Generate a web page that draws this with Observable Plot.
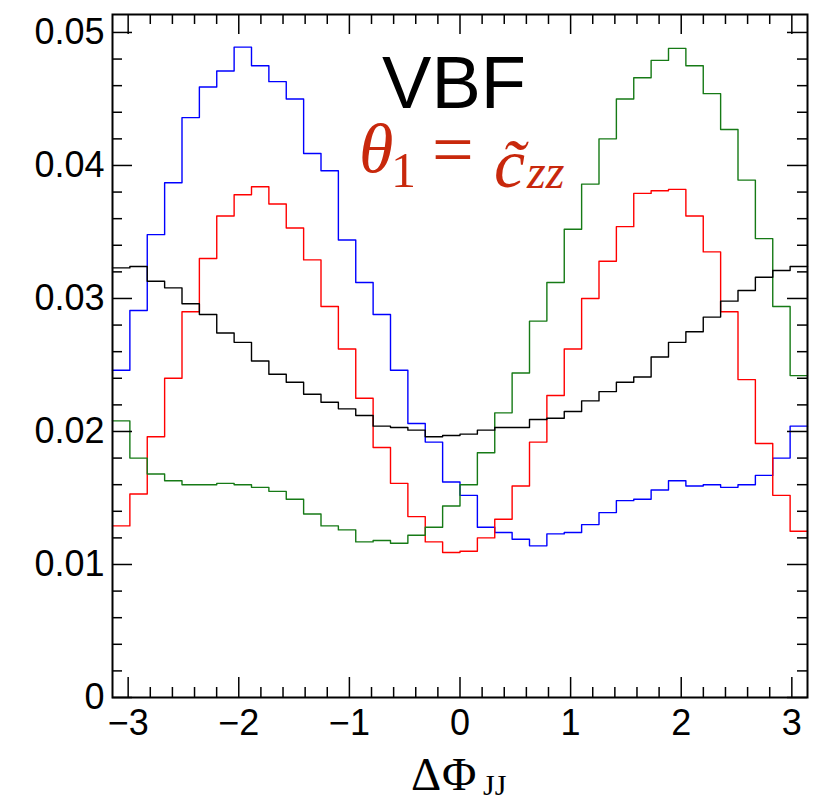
<!DOCTYPE html>
<html>
<head>
<meta charset="utf-8">
<script src="https://cdn.jsdelivr.net/npm/d3@7"></script>
<script src="https://cdn.jsdelivr.net/npm/@observablehq/plot@0.6"></script>
<style>
  html, body { margin: 0; padding: 0; background: #fff; }
  #chart svg { display: block; }
</style>
</head>
<body>
<div id="chart"></div>
<script>
// ---- data ----
const nBins = 40;
const xMin = -Math.PI, xMax = Math.PI;
const edges = d3.range(nBins + 1).map(k => xMin + k * (xMax - xMin) / nBins);

const blue = [0.0246, 0.0291, 0.0348, 0.0387, 0.0436, 0.0459, 0.0471, 0.0489, 0.0475, 0.0463,
              0.0450, 0.0409, 0.0396, 0.0344, 0.0312, 0.0288, 0.0246, 0.0206, 0.0192, 0.0162,
              0.0152, 0.0128, 0.0124, 0.0119, 0.0114, 0.0123, 0.0124, 0.0130, 0.0139, 0.0148,
              0.0149, 0.0156, 0.0163, 0.0159, 0.0160, 0.0158, 0.0160, 0.0167, 0.0180, 0.0204];
const red = [0.0129, 0.0153, 0.0196, 0.0240, 0.0290, 0.0330, 0.0362, 0.0378, 0.0384, 0.0371,
             0.0353, 0.0329, 0.0294, 0.0262, 0.0225, 0.0188, 0.0161, 0.0136, 0.0117, 0.0109,
             0.0110, 0.0120, 0.0134, 0.0159, 0.0192, 0.0227, 0.0262, 0.0300, 0.0328, 0.0354,
             0.0379, 0.0381, 0.0382, 0.0362, 0.0335, 0.0290, 0.0239, 0.0191, 0.0152, 0.0125];
const green = [0.0208, 0.0180, 0.0168, 0.0163, 0.0160, 0.0160, 0.0161, 0.0160, 0.0158, 0.0155,
               0.0149, 0.0138, 0.0129, 0.0126, 0.0117, 0.0118, 0.0116, 0.0122, 0.0128, 0.0144,
               0.0160, 0.0184, 0.0214, 0.0244, 0.0283, 0.0312, 0.0352, 0.0386, 0.0420, 0.0450,
               0.0466, 0.0479, 0.0488, 0.0475, 0.0454, 0.0427, 0.0389, 0.0345, 0.0294, 0.0242];
const black = [0.0323, 0.0324, 0.0313, 0.0308, 0.0296, 0.0288, 0.0274, 0.0267, 0.0253, 0.0243,
               0.0237, 0.0228, 0.0222, 0.0217, 0.0212, 0.0204, 0.0203, 0.0201, 0.0196, 0.0197,
               0.0198, 0.0201, 0.0203, 0.0203, 0.0209, 0.0210, 0.0215, 0.0223, 0.0230, 0.0237,
               0.0241, 0.0256, 0.0267, 0.0275, 0.0286, 0.0298, 0.0306, 0.0316, 0.0321, 0.0324];

const seriesNames = ["blue", "red", "green", "black"];
const seriesValues = [blue, red, green, black];
const seriesColors = ["#0000ff", "#ff0000", "#167a16", "#000000"];

const xMajorTicks = [-3, -2, -1, 0, 1, 2, 3];
const xMinorTicks = [-3.0, -2.8, -2.6, -2.4, -2.2, -1.8, -1.6, -1.4, -1.2, -0.8, -0.6, -0.4, -0.2,
                     0.2, 0.4, 0.6, 0.8, 1.2, 1.4, 1.6, 1.8, 2.2, 2.4, 2.6, 2.8, 3.0].filter(v => !xMajorTicks.includes(v));
const yMajorTicks = [0, 0.01, 0.02, 0.03, 0.04, 0.05];
const yMinorTicks = d3.range(1, 26).map(i => i * 0.002).filter(v => Math.abs(v * 100 - Math.round(v * 100)) > 1e-6);
const yMax = 0.05135;

// build step-line table
const table = [];
seriesNames.forEach((name, si) => {
  const vals = seriesValues[si];
  edges.forEach((e, k) => table.push({series: name, x: e, y: vals[Math.min(k, nBins - 1)]}));
});

const W = 821, H = 803;
const mL = 112, mR = 14, mT = 14, mB = 106;
const fw = W - mL - mR, fh = H - mT - mB;
const majorLen = 20, minorLen = 10;

const lineMarks = seriesNames.map((name, si) =>
  Plot.line(table.filter(d => d.series === name), {
    x: "x", y: "y", curve: "step-after", stroke: seriesColors[si], strokeWidth: 1.4
  })
);

const fmtX = d => (d < 0 ? "\u2212" + (-d) : String(d));
const fmtY = d => (d === 0 ? "0" : d3.format(".2f")(d));

const chart = Plot.plot({
  width: W, height: H,
  marginLeft: mL, marginRight: mR, marginTop: mT, marginBottom: mB,
  style: {fontFamily: "'Liberation Sans', Arial, sans-serif", fontSize: "36px", background: "#fff", color: "#000"},
  x: {domain: [xMin, xMax]},
  y: {domain: [0, yMax]},
  marks: [
    ...lineMarks,
    // ticks inside the frame, ROOT style, on all four sides
    Plot.ruleX(xMajorTicks, {insetTop: fh - majorLen, stroke: "#000", strokeWidth: 1.5}),
    Plot.ruleX(xMinorTicks, {insetTop: fh - minorLen, stroke: "#000", strokeWidth: 1.5}),
    Plot.ruleX(xMajorTicks, {insetBottom: fh - majorLen, stroke: "#000", strokeWidth: 1.5}),
    Plot.ruleX(xMinorTicks, {insetBottom: fh - minorLen, stroke: "#000", strokeWidth: 1.5}),
    Plot.ruleY(yMajorTicks, {insetRight: fw - majorLen, stroke: "#000", strokeWidth: 1.5}),
    Plot.ruleY(yMinorTicks, {insetRight: fw - minorLen, stroke: "#000", strokeWidth: 1.5}),
    Plot.ruleY(yMajorTicks, {insetLeft: fw - majorLen, stroke: "#000", strokeWidth: 1.5}),
    Plot.ruleY(yMinorTicks, {insetLeft: fw - minorLen, stroke: "#000", strokeWidth: 1.5}),
    Plot.axisX(xMajorTicks, {tickSize: 0, tickPadding: 12, tickFormat: fmtX, label: null, fontSize: 36}),
    Plot.axisY(yMajorTicks, {tickSize: 0, tickPadding: 8, tickFormat: fmtY, label: null, fontSize: 36}),
    Plot.frame({stroke: "#000", strokeWidth: 2})
  ]
});

document.getElementById("chart").appendChild(chart);

// annotations
const svg = d3.select(chart);
svg.append("text")
  .attr("x", 454).attr("y", 108)
  .attr("text-anchor", "middle")
  .attr("font-family", "'Liberation Sans', Arial, sans-serif")
  .attr("font-size", 74).attr("fill", "#000")
  .text("VBF");

const serif = "'Liberation Serif', 'Times New Roman', serif";
const redCol = "#c8280c";
const red_t = svg.append("text")
  .attr("text-anchor", "start")
  .attr("font-family", serif)
  .attr("fill", redCol);
red_t.append("tspan").attr("x", 359).attr("y", 172).attr("font-size", 70).attr("font-style", "italic").text("\u03B8");
red_t.append("tspan").attr("x", 391).attr("y", 187).attr("font-size", 50).text("1");
red_t.append("tspan").attr("x", 432).attr("y", 174).attr("font-size", 74).text("=");
red_t.append("tspan").attr("x", 494).attr("y", 187).attr("font-size", 70).attr("font-style", "italic").text("c\u0303");
red_t.append("tspan").attr("x", 527).attr("y", 188).attr("font-size", 48).attr("font-style", "italic").text("zz");

const xt = svg.append("text")
  .attr("text-anchor", "start")
  .attr("font-family", serif)
  .attr("fill", "#000");
xt.append("tspan").attr("x", 411).attr("y", 790).attr("font-size", 47).text("\u0394");
xt.append("tspan").attr("x", 442).attr("y", 790).attr("font-size", 47).text("\u03A6");
xt.append("tspan").attr("x", 483).attr("y", 795).attr("font-size", 30).text("JJ");
</script>
</body>
</html>
